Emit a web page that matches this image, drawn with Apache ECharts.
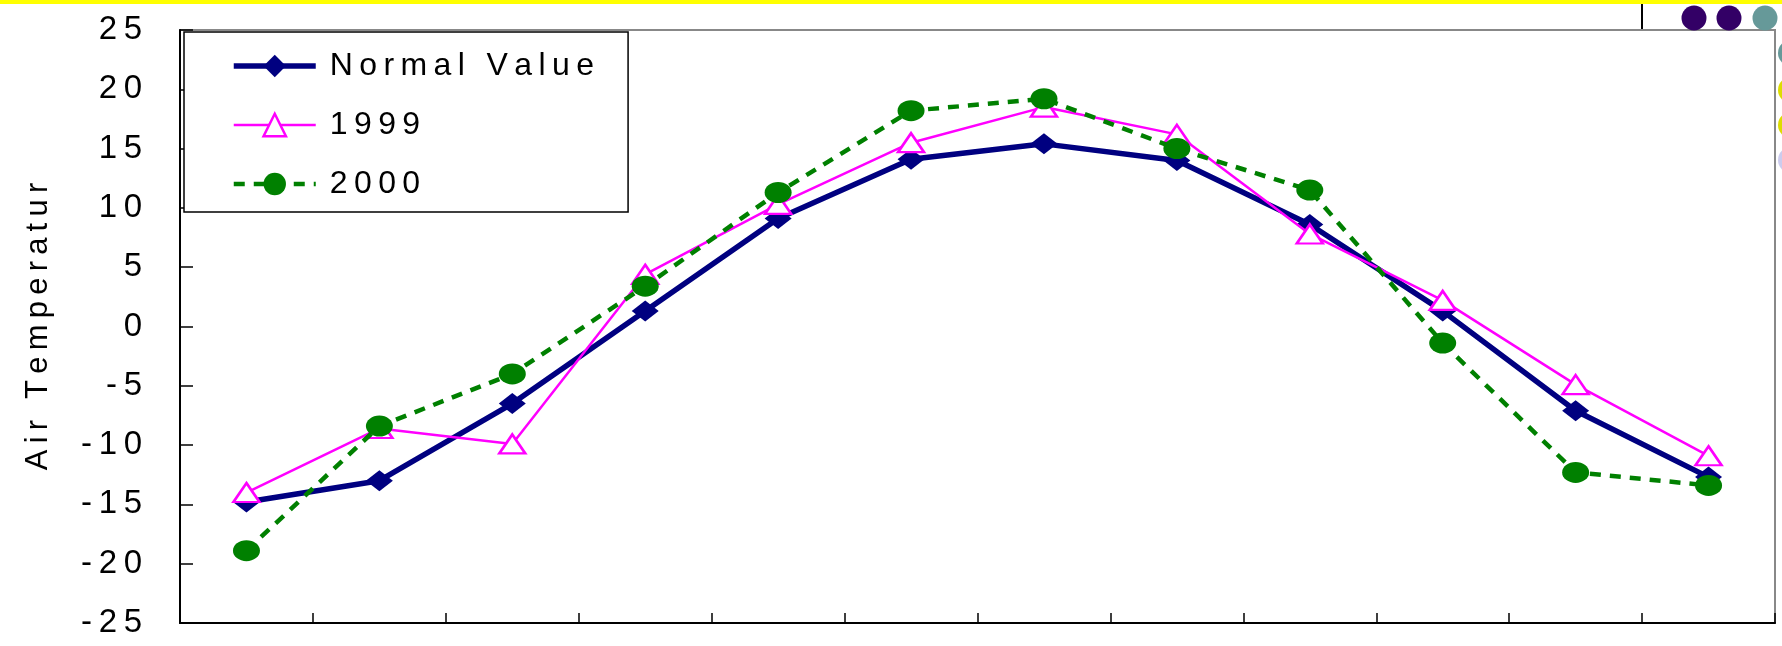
<!DOCTYPE html>
<html>
<head>
<meta charset="utf-8">
<script src="https://cdn.jsdelivr.net/npm/echarts@6/dist/echarts.min.js"></script>
<style>
  html, body { margin: 0; padding: 0; background: #ffffff; }
  #chart { width: 1782px; height: 646px; }
</style>
</head>
<body>
<div id="chart"></div>
<script>
// ---- Data ----
const categories = ['Jan', 'Feb', 'Mar', 'Apr', 'May', 'Jun', 'Jul', 'Aug', 'Sep', 'Oct', 'Nov', 'Dec'];
const normalValue = [-14.8, -13.0, -6.5, 1.3, 9.1, 14.1, 15.4, 14.0, 8.6, 1.3, -7.1, -12.7];
const values1999 = [-14.0, -8.6, -9.9, 4.4, 10.3, 15.5, 18.5, 16.2, 7.8, 2.2, -4.9, -10.9];
const values2000 = [-18.9, -8.4, -4.0, 3.4, 11.3, 18.2, 19.2, 15.0, 11.5, -1.4, -12.3, -13.4];
const seriesNames = ['Normal Value', '1999', '2000'];
const yAxisTitle = 'Air Temperatur';
const yMin = -25, yMax = 25, yStep = 5;

// spaced-out text like the original's wide character spacing (thin spaces)
const TS = '\u2009';
function spaced(s) {
  return String(s).split(' ').map(w => w.split('').join(TS)).join(TS + ' ' + TS);
}

const FONT = '"Liberation Sans", Arial, sans-serif';
const FS = 33;
const chart = echarts.init(document.getElementById('chart'), null, { renderer: 'canvas' });

chart.setOption({
  animation: false,
  backgroundColor: '#ffffff',
  grid: {
    left: 180, top: 30, right: 7, bottom: 23,
    show: true, borderColor: '#888888', borderWidth: 2, backgroundColor: '#ffffff'
  },
  legend: {
    orient: 'vertical',
    left: 184, top: 32,
    padding: [18, 34, 12, 47],
    itemGap: 27,
    itemWidth: 82,
    itemHeight: 28,
    backgroundColor: '#ffffff',
    borderColor: '#000000',
    borderWidth: 1.5,
    borderRadius: 0,
    data: seriesNames,
    lineStyle: { width: 'inherit' },
    itemStyle: { borderWidth: 'inherit' },
    formatter: name => spaced(name),
    textStyle: { fontFamily: FONT, fontSize: 32, color: '#000000', padding: [0, 0, 0, 9] }
  },
  xAxis: {
    type: 'category',
    data: categories,
    boundaryGap: true,
    axisLine: { show: true, onZero: false, lineStyle: { color: '#000000', width: 2 } },
    axisTick: { show: true, inside: true, length: 10, lineStyle: { color: '#000000', width: 1.5 } },
    axisLabel: { show: false },
    splitLine: { show: false }
  },
  yAxis: {
    type: 'value',
    min: yMin, max: yMax, interval: yStep,
    name: spaced(yAxisTitle),
    nameLocation: 'middle',
    nameRotate: 90,
    nameGap: 126,
    nameTextStyle: { fontFamily: FONT, fontSize: 31, color: '#000000' },
    axisLine: { show: true, lineStyle: { color: '#000000', width: 2 } },
    axisTick: { show: true, inside: true, length: 13, lineStyle: { color: '#000000', width: 1.5 } },
    axisLabel: {
      margin: 38,
      fontFamily: FONT, fontSize: FS, color: '#000000',
      formatter: v => spaced(v)
    },
    splitLine: { show: false }
  },
  series: [
    {
      name: seriesNames[0],
      type: 'line',
      data: normalValue,
      symbol: 'diamond',
      symbolSize: [27, 21],
      showAllSymbol: true,
      lineStyle: { color: '#000080', width: 5.5 },
      itemStyle: { color: '#000080' },
      z: 2
    },
    {
      name: seriesNames[1],
      type: 'line',
      data: values1999,
      symbol: 'triangle',
      symbolSize: [26, 19],
      showAllSymbol: true,
      lineStyle: { color: '#FF00FF', width: 2.5 },
      itemStyle: { color: '#ffffff', borderColor: '#FF00FF', borderWidth: 2.5 },
      z: 3
    },
    {
      name: seriesNames[2],
      type: 'line',
      data: values2000,
      symbol: 'circle',
      symbolSize: [27, 21],
      showAllSymbol: true,
      lineStyle: { color: '#008000', width: 4.5, type: [11, 9] },
      itemStyle: { color: '#008000' },
      z: 4
    }
  ],
  graphic: [
    { type: 'rect', shape: { x: 0, y: 0, width: 1782, height: 4 }, style: { fill: '#FFFF00' }, silent: true },
    { type: 'line', shape: { x1: 1642, y1: 4, x2: 1642, y2: 29 }, style: { stroke: '#000000', lineWidth: 2 }, silent: true },
    { type: 'circle', shape: { cx: 1694, cy: 18, r: 12.5 }, style: { fill: '#330066' }, silent: true },
    { type: 'circle', shape: { cx: 1729, cy: 18, r: 12.5 }, style: { fill: '#330066' }, silent: true },
    { type: 'circle', shape: { cx: 1765, cy: 18, r: 12.5 }, style: { fill: '#669999' }, silent: true },
    { type: 'circle', shape: { cx: 1791, cy: 53, r: 13 }, style: { fill: '#669999' }, silent: true },
    { type: 'circle', shape: { cx: 1791, cy: 90, r: 13 }, style: { fill: '#DDDD00' }, silent: true },
    { type: 'circle', shape: { cx: 1791, cy: 125, r: 13 }, style: { fill: '#DDDD00' }, silent: true },
    { type: 'circle', shape: { cx: 1791, cy: 160, r: 13 }, style: { fill: '#CCCCEE' }, silent: true }
  ]
});
</script>
</body>
</html>
